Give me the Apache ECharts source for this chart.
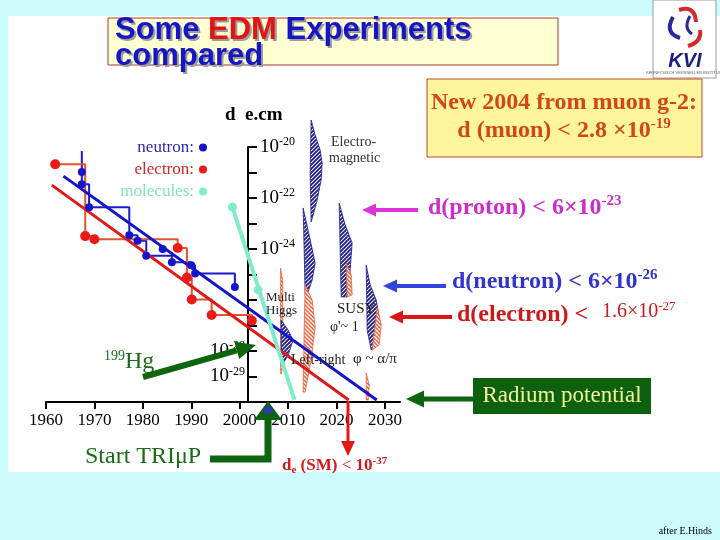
<!DOCTYPE html>
<html><head><meta charset="utf-8">
<script src="https://cdn.jsdelivr.net/npm/echarts@6/dist/echarts.min.js"></script>
<style>html,body{margin:0;padding:0;background:#ccfcfc}#c{width:720px;height:540px}</style>
</head><body><div id="c"></div>
<script>
// ---------------- data ----------------
const xTicks = [1960, 1970, 1980, 1990, 2000, 2010, 2020, 2030];
const yLabelsRight = [-20, -22, -24];
const yLabelsLeft = [-28, -29];

const neutronYears  = [1967.4, 1967.4, 1968.9, 1977.2, 1978.9, 1980.7, 1984.1, 1986.0, 1990.0, 1990.8, 1999.0];
const neutronValues = [1.05e-21, 3.5e-22, 4.3e-23, 3.5e-24, 2.1e-24, 5.4e-25, 1.0e-24, 3.0e-25, 2.3e-25, 1.1e-25, 3.2e-26];
const neutronLimitYears  = [1967.4, 1967.4, 1968.9, 1977.2, 1978.9, 1980.7, 1986.0, 1990.0, 1990.8, 1999.0];
const neutronLimitValues = [6.9e-21, 3.5e-22, 4.3e-23, 3.5e-24, 2.1e-24, 5.4e-25, 3.0e-25, 2.3e-25, 1.1e-25, 3.2e-26];

const electronYears  = [1961.9, 1968.1, 1970.0, 1987.2, 1989.1, 1990.1, 1994.2, 2002.5];
const electronValues = [2.1e-21, 3.2e-24, 2.4e-24, 1.1e-24, 7.6e-26, 1.05e-26, 2.6e-27, 1.55e-27];

const moleculeYears  = [1998.5, 2003.8];
const moleculeValues = [4.4e-23, 2.5e-26];
const moleculeTrendYears  = [1998.5, 2011.3];
const moleculeTrendValues = [4.4e-23, 1.2e-30];

const neutronTrendYears  = [1963.6, 2028.3];
const neutronTrendValues = [7.2e-22, 1.2e-30];
const electronTrendYears  = [1961.2, 2022.5];
const electronTrendValues = [3.2e-22, 1.2e-30];

// theory prediction bands: [year, log10(d)]
const bandEM      = [[2014.75,-18.94],[2015.58,-19.53],[2016.61,-20.12],[2017.02,-20.63],[2016.82,-21.29],[2015.99,-22.08],[2015.17,-22.67],[2014.75,-22.94],[2014.55,-21.0]];
const bandHiggsO  = [[2008.45,-24.75],[2008.9,-25.3],[2008.9,-28.5],[2008.6,-28.9],[2008.45,-28.9]];
const bandHiggsB  = [[2008.55,-26.78],[2010.0,-27.18],[2011.03,-27.57],[2010.0,-28.16],[2008.76,-28.55],[2008.55,-27.6]];
const bandLRB     = [[2013.10,-22.39],[2014.34,-23.45],[2015.58,-24.55],[2014.96,-25.22],[2013.93,-25.80],[2013.51,-25.80],[2013.31,-24.04]];
const bandLRO     = [[2013.51,-25.41],[2014.96,-26.0],[2015.58,-27.06],[2014.75,-28.35],[2013.51,-29.61],[2013.10,-29.61],[2013.31,-27.18]];
const bandSusyB   = [[2020.54,-22.20],[2021.78,-23.06],[2023.22,-23.76],[2022.81,-24.82],[2022.19,-25.88],[2020.95,-25.88],[2020.74,-24.04]];
const bandSusyO   = [[2021.98,-24.55],[2023.02,-25.02],[2023.22,-25.80],[2022.19,-25.88]];
const bandAlphaB  = [[2026.12,-24.63],[2026.94,-25.41],[2028.18,-26.0],[2029.01,-26.90],[2027.77,-27.76],[2027.15,-27.96],[2026.32,-27.18]];
const bandAlphaO  = [[2028.39,-26.27],[2029.21,-26.98],[2028.80,-27.76],[2027.36,-27.96]];
const bandAlphaO2 = [[2026.12,-28.86],[2026.74,-29.33],[2026.53,-29.92],[2026.12,-29.92]];
const bands = [
  {kind:'b', pts: bandEM}, {kind:'o', pts: bandHiggsO}, {kind:'b', pts: bandHiggsB},
  {kind:'b', pts: bandLRB}, {kind:'o', pts: bandLRO}, {kind:'b', pts: bandSusyB}, {kind:'o', pts: bandSusyO},
  {kind:'b', pts: bandAlphaB}, {kind:'o', pts: bandAlphaO}, {kind:'o', pts: bandAlphaO2}
];

// ---------------- helpers ----------------
const SERIF = "'Liberation Serif','Times New Roman',serif";
const SANS = "'Liberation Sans',Arial,sans-serif";
const zip = (a, b) => a.map((v, i) => [v, b[i]]);

function hatch(color, dir, lw) {
  const c = document.createElement('canvas'); c.width = 4; c.height = 4;
  const g = c.getContext('2d');
  g.fillStyle = '#ffffff'; g.fillRect(0, 0, 4, 4);
  g.strokeStyle = color; g.lineWidth = lw;
  g.beginPath();
  if (dir > 0) { g.moveTo(-1,5); g.lineTo(5,-1); g.moveTo(-1,1); g.lineTo(1,-1); g.moveTo(3,5); g.lineTo(5,3); }
  else { g.moveTo(-1,-1); g.lineTo(5,5); g.moveTo(-1,3); g.lineTo(1,5); g.moveTo(3,-1); g.lineTo(5,1); }
  g.stroke();
  return c;
}
const patBlue = {image: hatch('#1c1c8c', 1, 1.9), repeat: 'repeat'};
const patOrange = {image: hatch('#e8603a', -1, 1.5), repeat: 'repeat'};

function arrow(x1, y1, x2, y2, color, w, hl, hw) {
  const dx = x2 - x1, dy = y2 - y1, L = Math.hypot(dx, dy), ux = dx / L, uy = dy / L;
  const bx = x2 - ux * hl, by = y2 - uy * hl, nx = -uy, ny = ux;
  return [
    {type: 'line', z: 100, shape: {x1, y1, x2: bx, y2: by}, style: {stroke: color, lineWidth: w}},
    {type: 'polygon', z: 100, shape: {points: [[x2, y2], [bx + nx * hw / 2, by + ny * hw / 2], [bx - nx * hw / 2, by - ny * hw / 2]]}, style: {fill: color}}
  ];
}
function supText(x, y, main, sup, size, supSize, color, weight, align) {
  return {type: 'text', x, y, z: 100, style: {
    text: '{b|' + main + '}{s|' + sup + '}', align: align || 'left', verticalAlign: 'middle',
    rich: {
      b: {fontFamily: SERIF, fontSize: size, fontWeight: weight, fill: color, lineHeight: size + 4},
      s: {fontFamily: SERIF, fontSize: supSize, fontWeight: weight, fill: color, verticalAlign: 'top', lineHeight: supSize + 2}
    }}};
}
function txt(x, y, text, size, color, opts) {
  return {type: 'text', x, y, z: 100, style: Object.assign({text, fontFamily: SERIF, fontSize: size, fill: color, align: 'left', verticalAlign: 'middle'}, opts || {})};
}

const yRich = {
  b: {fontFamily: SERIF, fontSize: 19, color: '#000', lineHeight: 22},
  s: {fontFamily: SERIF, fontSize: 12, color: '#000', verticalAlign: 'top', lineHeight: 13}
};
const expOf = v => Math.round(Math.log10(v));

const chart = echarts.init(document.getElementById('c'), null, {renderer: 'canvas'});

const titleRich = {
  b: {fontFamily: SANS, fontSize: 31, fontWeight: 'bold', fill: '#1616c4'},
  r: {fontFamily: SANS, fontSize: 31, fontWeight: 'bold', fill: '#e21414'}
};
const shadowRich = {
  b: {fontFamily: SANS, fontSize: 31, fontWeight: 'bold', fill: '#9c9c9c'},
  r: {fontFamily: SANS, fontSize: 31, fontWeight: 'bold', fill: '#9c9c9c'}
};

const graphics = [
  {type: 'rect', z: -10, shape: {x: 8, y: 16, width: 712, height: 456}, style: {fill: '#ffffff'}},
  // title
  {type: 'rect', z: 100, shape: {x: 108, y: 18, width: 450, height: 47}, style: {fill: '#ffffd4', stroke: '#a83a2a', lineWidth: 1}},
  {type: 'text', z: 100, x: 117, y: 32.5, style: {text: '{b|Some }{r|EDM}{b| Experiments}', rich: shadowRich, verticalAlign: 'middle'}},
  {type: 'text', z: 100, x: 115, y: 30.5, style: {text: '{b|Some }{r|EDM}{b| Experiments}', rich: titleRich, verticalAlign: 'middle'}},
  {type: 'text', z: 100, x: 117, y: 58.5, style: {text: '{b|compared}', rich: shadowRich, verticalAlign: 'middle'}},
  {type: 'text', z: 100, x: 115, y: 56.5, style: {text: '{b|compared}', rich: titleRich, verticalAlign: 'middle'}},
  // logo
  {type: 'rect', z: 100, shape: {x: 653, y: 0, width: 63, height: 78}, style: {fill: '#ffffff', stroke: '#9a9a9a', lineWidth: 1}},
  {type: 'bezierCurve', z: 101, shape: {x1: 679, y1: 10, cpx1: 695, cpy1: 5, x2: 696, y2: 22}, style: {stroke: '#d42a2a', lineWidth: 4, fill: null}},
  {type: 'bezierCurve', z: 101, shape: {x1: 673, y1: 17, cpx1: 664, cpy1: 33, x2: 680, y2: 38}, style: {stroke: '#2a2a9a', lineWidth: 4, fill: null}},
  {type: 'bezierCurve', z: 101, shape: {x1: 688, y1: 46, cpx1: 702, cpy1: 42, x2: 700, y2: 30}, style: {stroke: '#d42a2a', lineWidth: 4, fill: null}},
  {type: 'bezierCurve', z: 101, shape: {x1: 690, y1: 16, cpx1: 683, cpy1: 28, x2: 692, y2: 34}, style: {stroke: '#2a2a9a', lineWidth: 3, fill: null}},
  {type: 'text', z: 101, x: 685, y: 61, style: {text: 'KVI', fontFamily: SANS, fontSize: 20, fontWeight: 'bold', fontStyle: 'italic', fill: '#1c2080', align: 'center', verticalAlign: 'middle'}},
  {type: 'text', z: 101, x: 685, y: 73, style: {text: 'KERNFYSISCH VERSNELLER INSTITUUT', fontFamily: SANS, fontSize: 4, fill: '#666', align: 'center', verticalAlign: 'middle'}},
  // muon box
  {type: 'rect', z: 100, shape: {x: 427, y: 79, width: 275, height: 78}, style: {fill: '#fff59c', stroke: '#b84a2a', lineWidth: 1}},
  txt(564, 103, 'New 2004 from muon g-2:', 24, '#d2461a', {fontWeight: 'bold', align: 'center'}),
  supText(564, 131, 'd (muon) < 2.8 ×10', '-19', 24, 15, '#d2461a', 'bold', 'center'),
  // limits on the right
  supText(428, 208, 'd(proton) < 6×10', '-23', 24, 15, '#cc2ecc', 'bold'),
  supText(452, 282, 'd(neutron) < 6×10', '-26', 24, 15, '#3434cc', 'bold'),
  txt(457, 315, 'd(electron) <', 24, '#cc1a1a', {fontWeight: 'bold'}),
  supText(602, 312, '1.6×10', '-27', 20, 13, '#cc1a1a', 'normal'),
  ...arrow(418, 210, 362, 210, '#dd33dd', 4, 14, 13),
  ...arrow(446, 286, 383, 286, '#3344dd', 4, 14, 13),
  ...arrow(452, 317, 389, 317, '#dd1414', 4, 14, 13),
  // radium
  {type: 'rect', z: 100, shape: {x: 473, y: 378, width: 178, height: 36}, style: {fill: '#0d600d'}},
  txt(562, 396, 'Radium potential', 23, '#f2f29a', {align: 'center'}),
  ...arrow(474, 399, 406, 399, '#0d650d', 5, 18, 17),
  // Hg
  ...arrow(143, 377, 256, 345, '#0d650d', 6, 20, 18),
  {type: 'text', z: 100, x: 104, y: 362, style: {text: '{s|199}{b|Hg}', verticalAlign: 'middle', rich: {
    b: {fontFamily: SERIF, fontSize: 24, fill: '#1a6b1a', lineHeight: 26},
    s: {fontFamily: SERIF, fontSize: 14, fill: '#1a6b1a', verticalAlign: 'top', lineHeight: 15}}}},
  // Start TRIuP
  {type: 'polyline', z: 100, shape: {points: [[210, 459], [268, 459], [268, 418]]}, style: {stroke: '#0d650d', lineWidth: 7, fill: null}},
  {type: 'polygon', z: 100, shape: {points: [[254, 420], [282, 420], [268, 401]]}, style: {fill: '#0d650d'}},
  {type: 'polygon', z: 101, shape: {points: [[262, 413], [274, 413], [268, 405]]}, style: {fill: '#3333cc'}},
  txt(85, 457, 'Start TRIμP', 24, '#1a6b1a'),
  // SM electron arrow
  {type: 'line', z: 100, shape: {x1: 348, y1: 401, x2: 348, y2: 442}, style: {stroke: '#e01818', lineWidth: 3}},
  {type: 'polygon', z: 100, shape: {points: [[341, 441], [355, 441], [348, 456]]}, style: {fill: '#e01818'}},
  {type: 'text', z: 100, x: 282, y: 466, style: {text: '{b|d}{u|e}{b| (SM) }{n|<}{b| 10}{s|-37}', verticalAlign: 'middle', rich: {
    b: {fontFamily: SERIF, fontSize: 17, fontWeight: 'bold', fill: '#d41a1a', lineHeight: 20},
    n: {fontFamily: SERIF, fontSize: 17, fill: '#d41a1a', lineHeight: 20},
    u: {fontFamily: SERIF, fontSize: 11, fontWeight: 'bold', fill: '#d41a1a', verticalAlign: 'bottom', lineHeight: 11},
    s: {fontFamily: SERIF, fontSize: 11, fontWeight: 'bold', fill: '#d41a1a', verticalAlign: 'top', lineHeight: 12}}}},
  // axis unit
  txt(225, 115, 'd  e.cm', 19, '#000', {fontWeight: 'bold'}),
  // theory labels
  txt(331, 142, 'Electro-', 14, '#333'),
  txt(329, 158, 'magnetic', 14, '#333'),
  txt(266, 298, 'Multi', 13, '#222'),
  txt(266, 311, 'Higgs', 13, '#222'),
  txt(337, 309, 'SUSY', 15, '#222'),
  txt(330, 327, "φ'~ 1", 14, '#222'),
  txt(291, 360, 'Left-right', 14, '#222'),
  txt(353, 359, 'φ ~ α/π', 15, '#222'),
  txt(712, 531, 'after E.Hinds', 10, '#000', {align: 'right'})
];

const option = {
  backgroundColor: '#ccfcfc',
  animation: false,
  grid: {left: 46, right: 320, top: 147, bottom: 138, containLabel: false, outerBoundsMode: 'none'},
  legend: {
    orient: 'vertical', align: 'right', right: 508, top: 134, itemGap: 5,
    itemWidth: 8, itemHeight: 8, icon: 'circle', selectedMode: false,
    formatter: n => n + ':',
    textStyle: {fontFamily: SERIF, fontSize: 17},
    data: [
      {name: 'neutron', textStyle: {color: '#2c2ca8'}},
      {name: 'electron', textStyle: {color: '#d02828'}},
      {name: 'molecules', textStyle: {color: '#7ee2c6'}}
    ]
  },
  xAxis: {
    type: 'value', min: 1960, max: 2033.1,
    axisLine: {show: true, lineStyle: {color: '#000', width: 2}},
    axisTick: {show: true, length: 7, lineStyle: {color: '#000', width: 2}, customValues: xTicks},
    axisLabel: {fontFamily: SERIF, fontSize: 17, color: '#000', margin: 10, customValues: xTicks, formatter: v => String(v)},
    splitLine: {show: false}
  },
  yAxis: [
    {
      type: 'log', logBase: 10, min: 1e-30, max: 1e-20, interval: 1, splitNumber: 10,
      position: 'left', offset: -202,
      axisLine: {show: true, lineStyle: {color: '#000', width: 2}},
      axisTick: {show: true, inside: true, length: 9, lineStyle: {color: '#000', width: 2}},
      axisLabel: {inside: true, margin: 12, rich: yRich,
        formatter: v => yLabelsRight.includes(expOf(v)) ? '{b|10}{s|' + expOf(v) + '}' : ''},
      splitLine: {show: false}, minorTick: {show: false}
    },
    {
      type: 'log', logBase: 10, min: 1e-30, max: 1e-20, interval: 1, splitNumber: 10,
      position: 'left', offset: -202,
      axisLine: {show: false}, axisTick: {show: false},
      axisLabel: {margin: 3, rich: yRich,
        formatter: v => yLabelsLeft.includes(expOf(v)) ? '{b|10}{s|' + expOf(v) + '}' : ''},
      splitLine: {show: false}
    }
  ],
  series: [
    {
      name: 'theory', type: 'custom', z: 1, clip: false, silent: true,
      data: bands.map((b, i) => [b.pts[0][0], Math.pow(10, b.pts[0][1]), i]),
      renderItem: (params, api) => {
        const b = bands[api.value(2)];
        const pts = b.pts.map(p => api.coord([p[0], Math.pow(10, p[1])]));
        return {type: 'polygon', shape: {points: pts},
          style: {fill: b.kind === 'b' ? patBlue : patOrange, stroke: b.kind === 'b' ? '#1c1c8c' : '#e8603a', lineWidth: 0.8}};
      }
    },
    {name: 'neutron limit', type: 'line', step: 'end', z: 2, symbol: 'none',
      data: zip(neutronLimitYears, neutronLimitValues), lineStyle: {color: '#1a1ad2', width: 2}},
    {name: 'electron limit', type: 'line', step: 'end', z: 2, symbol: 'none',
      data: zip(electronYears, electronValues), lineStyle: {color: '#e0552e', width: 2}},
    {name: 'neutron trend', type: 'line', z: 3, symbol: 'none',
      data: zip(neutronTrendYears, neutronTrendValues), lineStyle: {color: '#1414c8', width: 3}},
    {name: 'electron trend', type: 'line', z: 3, symbol: 'none',
      data: zip(electronTrendYears, electronTrendValues), lineStyle: {color: '#e01818', width: 3}},
    {name: 'neutron', type: 'scatter', z: 4, symbolSize: 8,
      data: zip(neutronYears, neutronValues), itemStyle: {color: '#1414cc', opacity: 1}},
    {name: 'electron', type: 'scatter', z: 4, symbolSize: 10,
      data: zip(electronYears, electronValues), itemStyle: {color: '#ee1a1a', opacity: 1}},
    {name: 'molecules trend', type: 'line', z: 5, symbol: 'none',
      data: zip(moleculeTrendYears, moleculeTrendValues), lineStyle: {color: '#80eccc', width: 4}},
    {name: 'molecules', type: 'scatter', z: 6, symbolSize: 9,
      data: zip(moleculeYears, moleculeValues), itemStyle: {color: '#80eccc', opacity: 1}}
  ],
  graphic: {elements: graphics}
};
chart.setOption(option);
</script>
</body></html>
